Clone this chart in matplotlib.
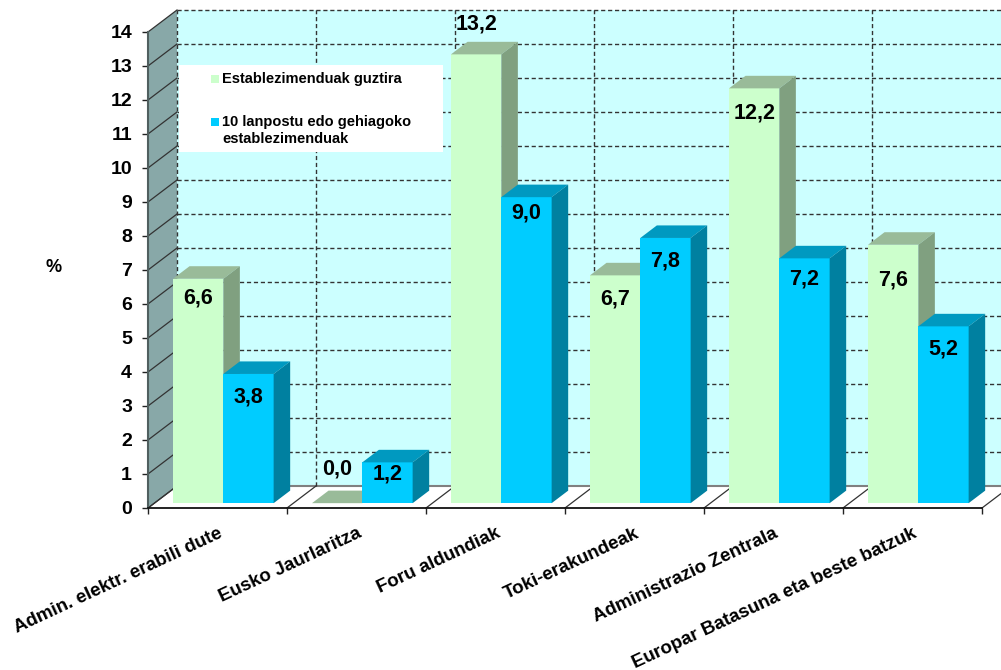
import numpy as np
import matplotlib
matplotlib.use("Agg")
import matplotlib.pyplot as plt
from matplotlib.patches import Rectangle

plt.rcParams['font.family'] = ['Liberation Sans', 'DejaVu Sans']
plt.rcParams['font.weight'] = 'bold'

categories = ["Admin. elektr. erabili dute", "Eusko Jaurlaritza", "Foru aldundiak",
              "Toki-erakundeak", "Administrazio Zentrala",
              "Europar Batasuna eta beste batzuk"]
total_vals = [6.6, 0.0, 13.2, 6.7, 12.2, 7.6]
large_vals = [3.8, 1.2, 9.0, 7.8, 7.2, 5.2]
series_names = ["Establezimenduak guztira",
                "10 lanpostu edo gehiagoko\nestablezimenduak"]
y_ticks = list(range(15))
y_label = "%"

# label shift from the bar's top front edge, in pixels (down is negative)
total_shift = [-19, 34, 30, -24, -25, -35]
large_shift = [-23, -12, -16, -23, -21, -23]

W, H = 1001, 670
X0, X1, Y0, Y1 = 148, 982, 508, 32      # front plane in pixels
PX_X = (X1 - X0) / 6
PX_Y = (Y0 - Y1) / 14
DEPTH_X = 29 / PX_X                     # wall depth in data units
DEPTH_Y = 22 / PX_Y
WIDTH = 0.362
START = 0.134
BAR_D0, BAR_D1 = 0.22, 0.79

GREEN = ("#ccffcc", "#99bb99", "#80a080")
BLUE = ("#00ccff", "#0099c0", "#0080a0")
GRID = "#333333"


def proj(x, y, d):
    # front plane point moved back by depth d (0 front, 1 back wall)
    return x + d * DEPTH_X, y + d * DEPTH_Y


def drawBar(ax, x, val, cols):
    xf, yf = proj(x, 0, BAR_D0)
    ax.bar(xf, val, WIDTH, bottom=yf, align='edge', color=cols[0], clip_on=False, zorder=5)
    top = [proj(x, val, BAR_D0), proj(x + WIDTH, val, BAR_D0),
           proj(x + WIDTH, val, BAR_D1), proj(x, val, BAR_D1)]
    ax.fill(*zip(*top), color=cols[1], lw=0, clip_on=False, zorder=5)
    if val > 0:
        side = [proj(x + WIDTH, 0, BAR_D0), proj(x + WIDTH, val, BAR_D0),
                proj(x + WIDTH, val, BAR_D1), proj(x + WIDTH, 0, BAR_D1)]
        ax.fill(*zip(*side), color=cols[2], lw=0, clip_on=False, zorder=5)


fig = plt.figure(figsize=(W / 100, H / 100), dpi=100)
ax = fig.add_axes([X0 / W, 1 - Y0 / H, (X1 - X0) / W, (Y0 - Y1) / H])
ax.set_xlim(0, 6)
ax.set_ylim(0, 14)
ax.patch.set_alpha(0)

# walls and floor
xb0, yb0 = proj(0, 0, 1)
xb1, yb1 = proj(6, 14, 1)
ax.fill([xb0, xb1, xb1, xb0], [yb0, yb0, yb1, yb1], color="#ccffff", lw=0, clip_on=False, zorder=0)
wall = [proj(0, 0, 0), proj(0, 14, 0), proj(0, 14, 1), proj(0, 0, 1)]
ax.fill(*zip(*wall), color="#88a8a8", lw=0, clip_on=False, zorder=1)

for v in y_ticks:
    xa, ya = proj(0, v, 0)
    xb, yb = proj(0, v, 1)
    ax.plot([xa, xb], [ya, yb], color=GRID, lw=0.9, clip_on=False, zorder=2)
    if v > 0:
        ax.plot([xb, xb1], [yb, yb], color=GRID, lw=1, ls=(0, (3, 2)), clip_on=False, zorder=1)
ax.plot([xb0, xb1], [yb0, yb0], color="#808080", lw=1.5, clip_on=False, zorder=1)

for i in range(7):
    xa, ya = proj(i, 0, 0)
    xb, yb = proj(i, 0, 1)
    ax.plot([xa, xb], [ya, yb], color=GRID, lw=0.9, clip_on=False, zorder=2)
    ax.plot([xb, xb], [yb, yb1], color=GRID, lw=1, ls=(0, (3, 2)), clip_on=False, zorder=1)

# bars and their labels
for i in range(6):
    x = i + START
    drawBar(ax, x, total_vals[i], GREEN)
    drawBar(ax, x + WIDTH, large_vals[i], BLUE)
    for xpos, val, shift in ((x, total_vals[i], total_shift[i]),
                             (x + WIDTH, large_vals[i], large_shift[i])):
        xf, yf = proj(xpos + WIDTH / 2, val, BAR_D0)
        ax.annotate(f"{val:.1f}".replace(".", ","), (xf, yf), xytext=(0, shift * 0.72),
                    textcoords='offset points', ha='center', va='center',
                    fontsize=15.5, color="black", zorder=6, annotation_clip=False)

# axes
for s in ('top', 'right'):
    ax.spines[s].set_visible(False)
ax.spines['left'].set_color("#505f5f")
ax.spines['left'].set_linewidth(1.5)
ax.spines['bottom'].set_color("#111111")
ax.spines['bottom'].set_linewidth(1.3)
ax.set_yticks(y_ticks)
ax.set_xticks(range(7))
ax.set_xticklabels([])
ax.tick_params(axis='both', which='major', length=4.5, width=1, color="#222222", labelsize=14, pad=7)
ax.set_xticks(np.arange(6) + 0.5, categories, minor=True, rotation=25, ha='right',
              rotation_mode='anchor', fontsize=13.5)
ax.tick_params(axis='x', which='minor', length=0, pad=12)
fig.text(54 / W, 1 - 268 / H, y_label, ha='center', va='center', fontsize=13)

# legend
fig.add_artist(Rectangle((179 / W, 1 - 152 / H), 264 / W, 87 / H, color="white", lw=0,
                         transform=fig.transFigure, zorder=3))
for cy, col in ((79, GREEN[0]), (122, BLUE[0])):
    fig.add_artist(Rectangle((211 / W, 1 - (cy + 4) / H), 8 / W, 8 / H, color=col, lw=0,
                             transform=fig.transFigure, zorder=4))
fig.text(222 / W, 1 - 79 / H, series_names[0], va='center', fontsize=10.5, zorder=4)
fig.text(222 / W, 1 - 115 / H, series_names[1], va='top', fontsize=10.5, zorder=4, linespacing=1.3)

fig.savefig("out.png", dpi=100)
